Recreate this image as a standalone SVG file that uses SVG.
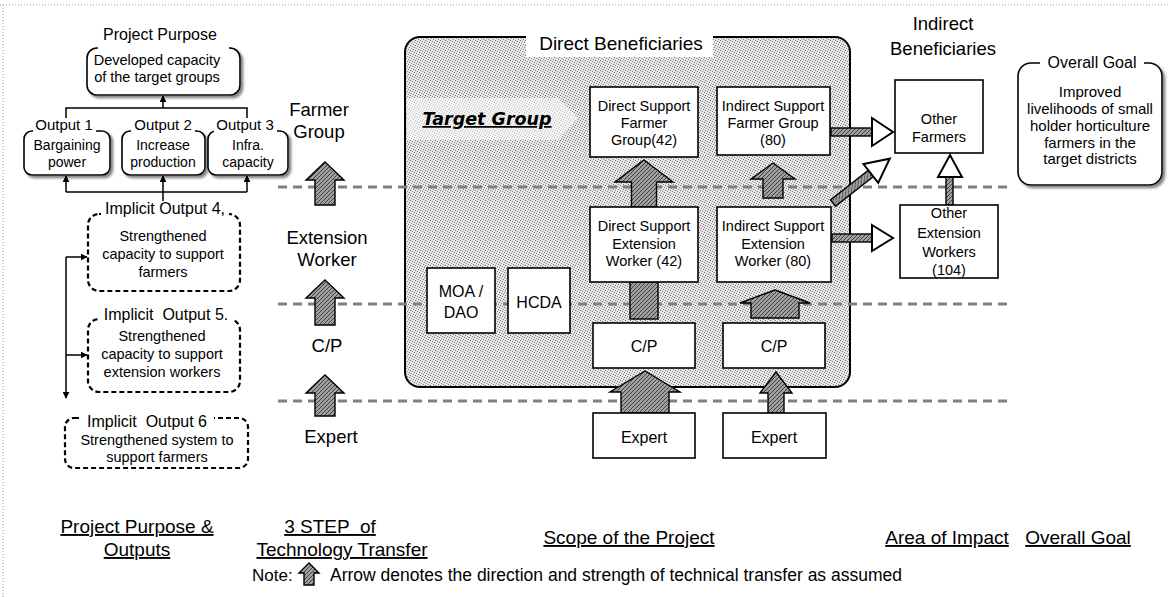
<svg xmlns="http://www.w3.org/2000/svg" width="1170" height="597" viewBox="0 0 1170 597">
<defs>
  <style>
    text { font-family: "Liberation Sans", Arial, Helvetica, sans-serif; fill: #000; text-anchor: middle; }
    .u { text-decoration: underline; }
    .box { fill: #fff; stroke: #000; stroke-width: 1.6; }
    .rbox { fill: #fff; stroke: #000; stroke-width: 1.6; filter: url(#sh); }
    .dbox { fill: #fff; stroke: #000; stroke-width: 2.2; stroke-dasharray: 5 3; }
    .bg { fill: #fff; stroke: none; }
    .conn { fill: none; stroke: #000; stroke-width: 1.5; }
    .step { fill: none; stroke: #808080; stroke-width: 3.2; stroke-dasharray: 9 6; }
    .blk { fill: url(#hatch); stroke: #000; stroke-width: 1.4; stroke-linejoin: miter; }
    .hollow { fill: #fff; stroke: #000; stroke-width: 2; stroke-linejoin: miter; }
    .frame { fill: none; stroke: #9a9a9a; stroke-width: 1; stroke-dasharray: 1 2; }
  </style>
  <pattern id="hatch" width="4" height="4" patternUnits="userSpaceOnUse">
    <rect width="4" height="4" fill="#a0a0a0"/>
    <path d="M0,4 L4,0 M-1,1 L1,-1 M3,5 L5,3" stroke="#404040" stroke-width="1"/>
  </pattern>
  <pattern id="stip" width="5" height="5" patternUnits="userSpaceOnUse">
    <rect width="5" height="5" fill="#e6e6e6"/>
    <rect x="0" y="0" width="1" height="1" fill="#707070"/>
    <rect x="2" y="1" width="1" height="1" fill="#888"/>
    <rect x="4" y="2" width="1" height="1" fill="#777"/>
    <rect x="1" y="3" width="1" height="1" fill="#999"/>
    <rect x="3" y="4" width="1" height="1" fill="#808080"/>
  </pattern>
  <filter id="sh" x="-10%" y="-15%" width="130%" height="140%">
    <feDropShadow dx="2.5" dy="2.5" stdDeviation="1.2" flood-color="#666" flood-opacity="0.8"/>
  </filter>
  <marker id="ah" viewBox="0 0 10 10" refX="9" refY="5" markerWidth="7" markerHeight="7" markerUnits="userSpaceOnUse" orient="auto">
    <path d="M0,0 L10,5 L0,10 z" fill="#000"/>
  </marker>
</defs>

<rect width="1170" height="597" fill="#fff"/>

<!-- page border -->
<g id="frame">
  <path class="frame" d="M0,5 H1170 M3,5 V597"/>
</g>

<!-- ===== Project purpose & outputs ===== -->
<g id="project-purpose">
  <text x="160" y="40" font-size="16">Project Purpose</text>
  <rect class="rbox" x="87" y="48" width="153" height="47" rx="10"/>
  <rect class="bg" x="98" y="44" width="131" height="7"/>
  <text x="157" y="65" font-size="14.5">Developed capacity</text>
  <text x="157" y="82" font-size="14.5">of the target groups</text>
</g>

<g id="output-1">
  <rect class="rbox" x="24" y="131" width="86" height="44" rx="8"/>
  <rect class="bg" x="33" y="118" width="63" height="16"/>
  <text x="64" y="130" font-size="15">Output 1</text>
  <text x="67" y="150" font-size="14">Bargaining</text>
  <text x="67" y="167" font-size="14">power</text>
</g>
<g id="output-2">
  <rect class="rbox" x="122" y="131" width="83" height="44" rx="8"/>
  <rect class="bg" x="131" y="118" width="64" height="16"/>
  <text x="163" y="130" font-size="15">Output 2</text>
  <text x="163" y="150" font-size="14">Increase</text>
  <text x="163" y="167" font-size="14">production</text>
</g>
<g id="output-3">
  <rect class="rbox" x="208" y="131" width="80" height="44" rx="8"/>
  <rect class="bg" x="214" y="118" width="63" height="16"/>
  <text x="245" y="130" font-size="15">Output 3</text>
  <text x="248" y="150" font-size="14">Infra.</text>
  <text x="248" y="167" font-size="14">capacity</text>
</g>

<g id="implicit-output-4">
  <rect class="dbox" x="88" y="214" width="152" height="77" rx="11"/>
  <rect class="bg" x="101" y="198" width="128" height="19"/>
  <text x="165" y="214" font-size="16">Implicit Output 4,</text>
  <text x="163" y="241" font-size="14.5">Strengthened</text>
  <text x="163" y="259" font-size="14.5">capacity to support</text>
  <text x="163" y="277" font-size="14.5">farmers</text>
</g>
<g id="implicit-output-5">
  <rect class="dbox" x="88" y="319" width="152" height="73" rx="11"/>
  <rect class="bg" x="98" y="303" width="136" height="19"/>
  <text x="166" y="320" font-size="16" xml:space="preserve">Implicit  Output 5.</text>
  <text x="162" y="341" font-size="14.5">Strengthened</text>
  <text x="162" y="359" font-size="14.5">capacity to support</text>
  <text x="162" y="377" font-size="14.5">extension workers</text>
</g>
<g id="implicit-output-6">
  <rect class="dbox" x="65" y="418" width="183" height="50" rx="9"/>
  <rect class="bg" x="80" y="410" width="134" height="12"/>
  <text x="147" y="427" font-size="16" xml:space="preserve">Implicit  Output 6</text>
  <text x="157" y="445" font-size="14.5">Strengthened system to</text>
  <text x="157" y="462" font-size="14.5">support farmers</text>
</g>

<!-- ===== 3 step labels ===== -->
<g id="step-farmer-group">
  <text x="319" y="116" font-size="18.5">Farmer</text>
  <text x="319" y="138" font-size="18.5">Group</text>
</g>
<g id="step-extension-worker">
  <text x="327" y="244" font-size="18.5">Extension</text>
  <text x="327" y="266" font-size="18.5">Worker</text>
</g>
<g id="step-cp">
  <text x="327" y="352" font-size="18.5">C/P</text>
</g>
<g id="step-expert">
  <text x="331" y="443" font-size="18.5">Expert</text>
</g>

<!-- ===== Direct beneficiaries frame ===== -->
<g id="direct-beneficiaries">
  <rect x="405" y="37" width="445" height="350" rx="15" fill="url(#stip)" stroke="#000" stroke-width="2"/>
  <rect class="bg" x="526" y="30" width="187" height="27"/>
  <text x="621" y="50" font-size="19">Direct Beneficiaries</text>
</g>

<g id="target-group">
  <polygon points="407,98 558,98 578,118 558,140 407,140" fill="#fff" fill-opacity="0.55"/>
  <text class="u" x="487" y="125" font-size="17.5" font-weight="bold" font-style="italic" style="font-family:'DejaVu Sans','Liberation Sans',sans-serif">Target Group</text>
</g>

<!-- ===== Connectors ===== -->
<g id="connectors">
  <!-- outputs to project purpose -->
  <path class="conn" d="M66,118 V108 H247 V118"/>
  <path class="conn" d="M163,108 V96" marker-end="url(#ah)"/>
  <!-- implicit output 4 to outputs -->
  <path class="conn" d="M66,192 H247"/>
  <path class="conn" d="M66,192 V176" marker-end="url(#ah)"/>
  <path class="conn" d="M163,201 V176" marker-end="url(#ah)"/>
  <path class="conn" d="M247,192 V176" marker-end="url(#ah)"/>
  <!-- left feedback line -->
  <path class="conn" d="M66,257 V398" marker-end="url(#ah)"/>
  <path class="conn" d="M66,257 H87" marker-end="url(#ah)"/>
  <path class="conn" d="M66,355 H87" marker-end="url(#ah)"/>

  <!-- level separators -->
  <path class="step" d="M278,187 H1012"/>
  <path class="step" d="M278,304 H1012"/>
  <path class="step" d="M278,401 H1012"/>

  <!-- 3-step transfer arrows -->
  <path class="blk" d="M325,162 L344,180 L335,180 L335,205 L315,205 L315,180 L306,180 Z"/>
  <path class="blk" d="M325,280 L344,298 L335,298 L335,325 L315,325 L315,298 L306,298 Z"/>
  <path class="blk" d="M325,375 L344,393 L335,393 L335,416 L315,416 L315,393 L306,393 Z"/>

  <!-- transfer arrows inside the project -->
  <path class="blk" d="M644,160 L673,182 L656.5,182 L656.5,207 L631.5,207 L631.5,182 L615,182 Z"/>
  <path class="blk" d="M773,163 L795,179 L783,179 L783,198 L763,198 L763,179 L751,179 Z"/>
  <rect class="blk" x="630" y="282" width="28" height="37"/>
  <path class="blk" d="M775,290 L810,303 L799,303 L799,318 L751,318 L751,303 L740,303 Z"/>
  <path class="blk" d="M645,371 L680,392 L669,392 L669,413 L621,413 L621,392 L610,392 Z"/>
  <path class="blk" d="M776,372 L792,393 L784,393 L784,413 L768,413 L768,393 L760,393 Z"/>

  <!-- spill-over arrows to indirect beneficiaries -->
  <rect class="blk" x="831" y="128" width="42" height="8"/>
  <polygon class="hollow" points="872,118 893,132 872,146"/>
  <rect class="blk" x="832" y="234" width="41" height="8"/>
  <polygon class="hollow" points="872,225 893,238 872,251"/>
  <g transform="translate(833,203) rotate(-38)">
    <rect class="blk" x="0" y="-4" width="50" height="8"/>
    <polygon class="hollow" points="48,-12 72,0 48,12"/>
  </g>
  <rect class="blk" x="946" y="176" width="7" height="29"/>
  <polygon class="hollow" points="938,177 950,155 962,177"/>
</g>

<!-- ===== Nodes inside the project ===== -->
<g id="ds-farmer-group">
  <rect class="box" x="590" y="87" width="108" height="70"/>
  <text x="644" y="111" font-size="14.5">Direct Support</text>
  <text x="644" y="128" font-size="14.5">Farmer</text>
  <text x="644" y="145" font-size="14.5">Group(42)</text>
</g>
<g id="is-farmer-group">
  <rect class="box" x="717" y="87" width="113" height="68"/>
  <text x="773" y="111" font-size="14.5">Indirect Support</text>
  <text x="773" y="128" font-size="14.5">Farmer Group</text>
  <text x="773" y="145" font-size="14.5">(80)</text>
</g>
<g id="ds-extension-worker">
  <rect class="box" x="590" y="207" width="108" height="75"/>
  <text x="644" y="231" font-size="14.5">Direct Support</text>
  <text x="644" y="249" font-size="14.5">Extension</text>
  <text x="644" y="266" font-size="14.5">Worker (42)</text>
</g>
<g id="is-extension-worker">
  <rect class="box" x="717" y="207" width="114" height="75"/>
  <text x="773" y="231" font-size="14.5">Indirect Support</text>
  <text x="773" y="249" font-size="14.5">Extension</text>
  <text x="773" y="266" font-size="14.5">Worker (80)</text>
</g>
<g id="moa-dao">
  <rect class="box" x="427" y="268" width="68" height="65"/>
  <text x="461" y="297" font-size="16">MOA /</text>
  <text x="461" y="318" font-size="16">DAO</text>
</g>
<g id="hcda">
  <rect class="box" x="508" y="268" width="62" height="65"/>
  <text x="539" y="308" font-size="16">HCDA</text>
</g>
<g id="cp-1">
  <rect class="box" x="593" y="323" width="102" height="45"/>
  <text x="644" y="352" font-size="16">C/P</text>
</g>
<g id="cp-2">
  <rect class="box" x="723" y="323" width="102" height="45"/>
  <text x="774" y="352" font-size="16">C/P</text>
</g>
<g id="expert-1">
  <rect class="box" x="593" y="413" width="102" height="45"/>
  <text x="644" y="443" font-size="16">Expert</text>
</g>
<g id="expert-2">
  <rect class="box" x="723" y="413" width="103" height="45"/>
  <text x="774" y="443" font-size="16">Expert</text>
</g>

<!-- ===== Indirect beneficiaries ===== -->
<g id="indirect-beneficiaries">
  <text x="943" y="30" font-size="18.5">Indirect</text>
  <text x="943" y="55" font-size="18.5">Beneficiaries</text>
</g>
<g id="other-farmers">
  <rect class="box" x="895" y="80" width="88" height="73"/>
  <text x="939" y="124" font-size="14.5">Other</text>
  <text x="939" y="142" font-size="14.5">Farmers</text>
</g>
<g id="other-extension-workers">
  <rect class="box" x="900" y="205" width="98" height="73"/>
  <text x="949" y="218" font-size="14.5">Other</text>
  <text x="949" y="238" font-size="14.5">Extension</text>
  <text x="949" y="257" font-size="14.5">Workers</text>
  <text x="949" y="275" font-size="14.5">(104)</text>
</g>

<!-- ===== Overall goal ===== -->
<g id="overall-goal">
  <rect class="rbox" x="1018" y="63" width="144" height="122" rx="13"/>
  <rect class="bg" x="1040" y="52" width="104" height="15"/>
  <text x="1092" y="68" font-size="16">Overall Goal</text>
  <text x="1090" y="97" font-size="15">Improved</text>
  <text x="1090" y="114" font-size="15">livelihoods of small</text>
  <text x="1090" y="131" font-size="15">holder horticulture</text>
  <text x="1090" y="148" font-size="15">farmers in the</text>
  <text x="1090" y="164" font-size="15">target districts</text>
</g>

<!-- ===== Column captions ===== -->
<g id="captions">
  <text class="u" x="137" y="533" font-size="19">Project Purpose &amp;</text>
  <text class="u" x="137" y="556" font-size="19">Outputs</text>
  <text class="u" x="330" y="533" font-size="19" xml:space="preserve">3 STEP  of</text>
  <text class="u" x="342" y="556" font-size="19">Technology Transfer</text>
  <text class="u" x="629" y="544" font-size="19">Scope of the Project</text>
  <text class="u" x="947" y="544" font-size="19">Area of Impact</text>
  <text class="u" x="1078" y="544" font-size="19">Overall Goal</text>
</g>

<!-- ===== Legend ===== -->
<g id="note">
  <text x="252" y="581" font-size="17" style="text-anchor:start">Note:</text>
  <path class="blk" d="M309,563 L319,573 L314,573 L314,585 L304,585 L304,573 L299,573 Z"/>
  <text x="330" y="581" font-size="17.5" style="text-anchor:start">Arrow denotes the direction and strength of technical transfer as assumed</text>
</g>
</svg>
